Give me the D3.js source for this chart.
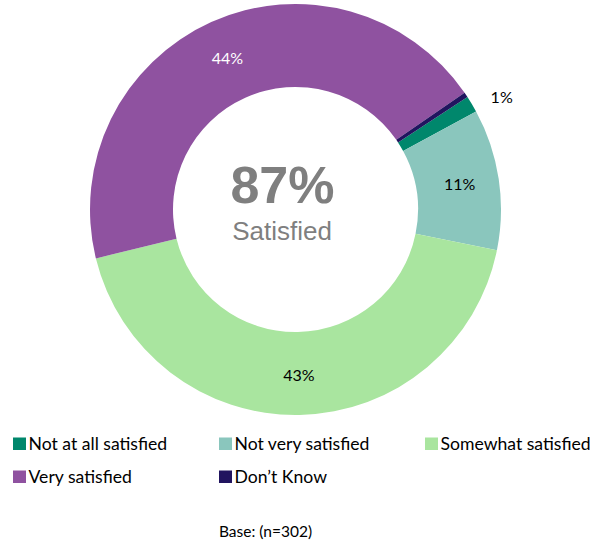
<!DOCTYPE html>
<html>
<head>
<meta charset="utf-8">
<script src="https://cdn.jsdelivr.net/npm/d3@7/dist/d3.min.js"></script>
<style>
  html, body { margin: 0; padding: 0; background: #ffffff; }
  svg { display: block; }
</style>
</head>
<body>
<svg id="chart" width="597" height="541"></svg>
<script>
// ---- data ----
const categories = ["Not at all satisfied", "Not very satisfied", "Somewhat satisfied", "Very satisfied", "Don\u2019t Know"];
const values = [1.3, 11.1, 43.0, 44.2, 0.4];
const colors = ["#00876C", "#8AC6BD", "#A9E59F", "#8F52A0", "#21145F"];
const labelColors = ["#000000", "#000000", "#000000", "#ffffff", null];
const centerValue = "87%";
const centerLabel = "Satisfied";
const baseNote = "Base: (n=302)";

// ---- layout ----
const svg = d3.select("#chart");
const cx = 295.5, cy = 209.5;
const outerR = 205.5, innerR = 122.5;
const startDeg = 56.8;

const pie = d3.pie()
  .sort(null)
  .value(d => d.value)
  .startAngle(startDeg * Math.PI / 180)
  .endAngle((startDeg + 360) * Math.PI / 180);

const data = categories.map((c, i) => ({ name: c, value: values[i], color: colors[i], lc: labelColors[i] }));
const arcs = pie(data);

const arc = d3.arc().innerRadius(innerR).outerRadius(outerR);
const labelArc = d3.arc().innerRadius(innerR + 2).outerRadius(outerR + 2);
const outsideArc = d3.arc().innerRadius(232).outerRadius(232);

const g = svg.append("g").attr("transform", `translate(${cx},${cy})`);

g.selectAll("path.slice")
  .data(arcs)
  .join("path")
  .attr("class", "slice")
  .attr("d", arc)
  .attr("fill", d => d.data.color);

// data labels
const labelFont = "Lato, 'Open Sans', sans-serif";
g.selectAll("text.lbl")
  .data(arcs.filter(d => d.data.lc !== null))
  .join("text")
  .attr("class", "lbl")
  .attr("transform", d => {
    if ((d.endAngle - d.startAngle) < 0.1) {
      const p = outsideArc.centroid(d);
      return `translate(${p[0] + 7},${p[1] + 7})`;
    }
    const p = labelArc.centroid(d);
    return `translate(${p[0]},${p[1]})`;
  })
  .attr("text-anchor", "middle")
  .attr("dy", "0.35em")
  .attr("font-family", labelFont)
  .attr("font-size", 16)
  .attr("fill", d => d.data.lc)
  .text(d => Math.round(d.data.value) + "%");

// center text
svg.append("text")
  .attr("x", 282.5).attr("y", 203)
  .attr("text-anchor", "middle")
  .attr("font-family", "Arial, 'Liberation Sans', sans-serif")
  .attr("font-weight", "bold")
  .attr("font-size", 52)
  .attr("fill", "#7F7F7F")
  .text(centerValue);

svg.append("text")
  .attr("x", 282).attr("y", 240)
  .attr("text-anchor", "middle")
  .attr("font-family", "Arial, 'Liberation Sans', sans-serif")
  .attr("font-size", 26)
  .attr("fill", "#7F7F7F")
  .text(centerLabel);

// legend
const legendPos = [
  { x: 13, y: 450 }, { x: 219, y: 450 }, { x: 425, y: 450 },
  { x: 13, y: 483 }, { x: 219, y: 483 }
];
const lg = svg.append("g");
const items = lg.selectAll("g.item")
  .data(data)
  .join("g")
  .attr("class", "item")
  .attr("transform", (d, i) => `translate(${legendPos[i].x},${legendPos[i].y})`);
items.append("rect")
  .attr("x", 0).attr("y", -12.5)
  .attr("width", 13).attr("height", 12.5)
  .attr("fill", d => d.color);
items.append("text")
  .attr("x", 15.5).attr("y", 0)
  .attr("font-family", labelFont)
  .attr("font-size", 17.6)
  .attr("fill", "#000")
  .text(d => d.name);

svg.append("text")
  .attr("x", 265.5).attr("y", 537)
  .attr("text-anchor", "middle")
  .attr("font-family", labelFont)
  .attr("font-size", 15.5)
  .attr("fill", "#000")
  .text(baseNote);
</script>
</body>
</html>
